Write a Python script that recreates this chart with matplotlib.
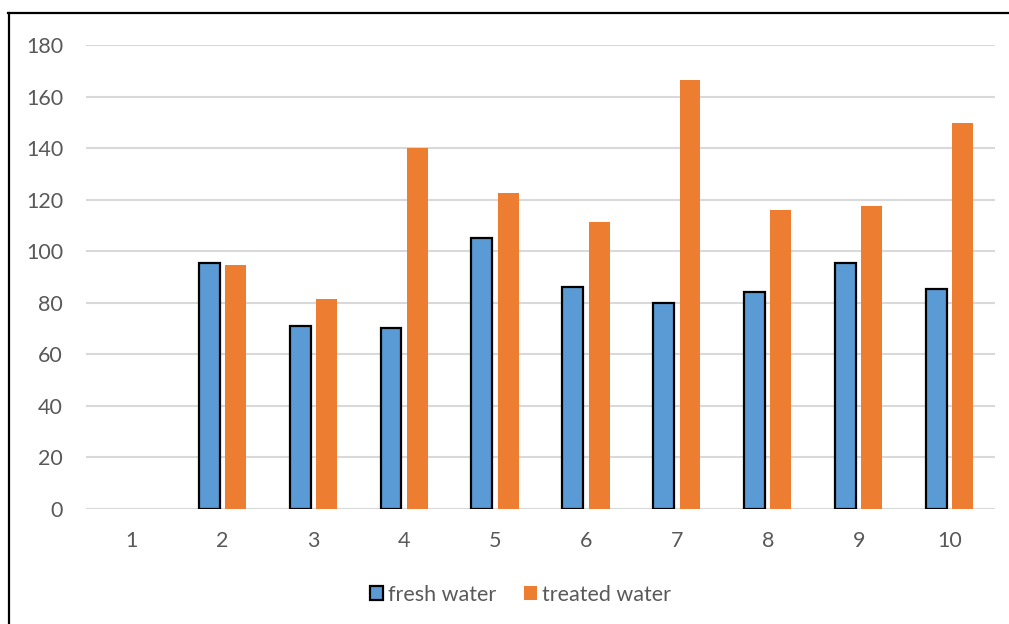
import numpy as np
import matplotlib
matplotlib.use("Agg")
import matplotlib.pyplot as plt
from matplotlib.lines import Line2D

# Sample numbers and measured values
samples = ["1", "2", "3", "4", "5", "6", "7", "8", "9", "10"]
fresh_water = [np.nan, 95.5, 71, 70.3, 105.2, 86, 80, 84, 95.5, 85.5]
treated_water = [np.nan, 94.7, 81.5, 140.2, 122.5, 111.3, 166.3, 116, 117.6, 149.8]

plt.rcParams['font.family'] = ['Lato', 'DejaVu Sans']

fig = plt.figure(figsize=(10.09, 6.24), dpi=100)
ax = fig.add_axes([86 / 1009, 1 - 509 / 624, 909 / 1009, 464 / 624])

x = np.arange(len(samples))
width = 0.23
offset = 0.145

ax.bar(x - offset, fresh_water, width, color='#5B9BD5', edgecolor='black',
       linewidth=1.6, label='fresh water', zorder=3)
ax.bar(x + offset, treated_water, width, color='#ED7D31', edgecolor='none',
       label='treated water', zorder=3)

ax.set_xlim(-0.5, len(samples) - 0.5)
ax.set_ylim(0, 180)
ax.set_yticks(range(0, 181, 20))
ax.set_xticks(x)
ax.set_xticklabels(samples)
ax.yaxis.grid(True, color='#D9D9D9', linewidth=1.5)
ax.set_axisbelow(True)
for side in ['top', 'right', 'left', 'bottom']:
    ax.spines[side].set_visible(False)
ax.axhline(0, color='#D9D9D9', linewidth=1.5, zorder=2)
ax.tick_params(axis='both', length=0, labelsize=15.5, colors='#595959')
ax.tick_params(axis='y', pad=16.5)
ax.tick_params(axis='x', pad=16)

ax.legend(loc='center', bbox_to_anchor=(0.478, -0.185), ncol=2, frameon=False,
          fontsize=15.5, labelcolor='#595959', handlelength=0.6,
          handleheight=0.6, handletextpad=0.25, columnspacing=1.3)

# outer border of the chart area
fig.add_artist(Line2D([8 / 1009, 1.0], [1 - 13 / 624, 1 - 13 / 624],
                      transform=fig.transFigure, color='black', linewidth=1.6))
fig.add_artist(Line2D([9 / 1009, 9 / 1009], [1 - 13 / 624, 0.0],
                      transform=fig.transFigure, color='black', linewidth=1.6))

fig.savefig('out.png', dpi=100, facecolor='white')
